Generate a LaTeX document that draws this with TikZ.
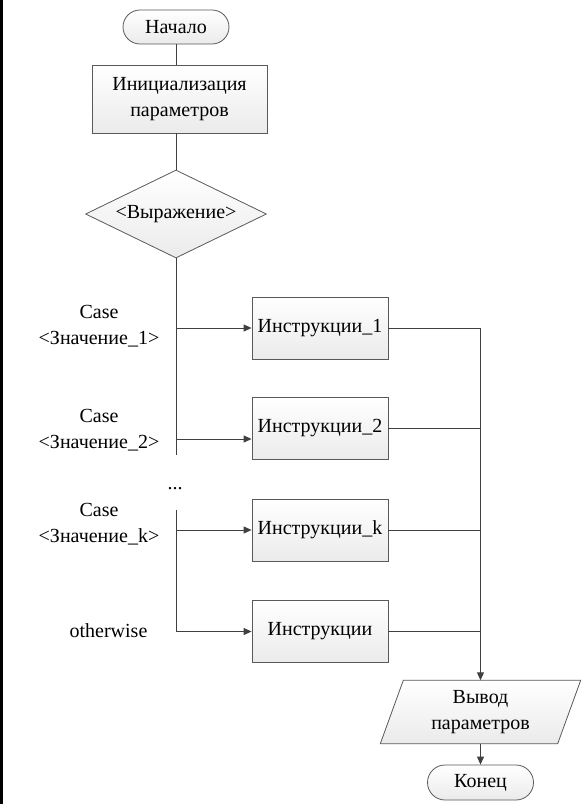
\documentclass[tikz,border=0pt]{standalone}
\usepackage{fontspec}
\setmainfont{Liberation Serif}
\usetikzlibrary{shapes.geometric,shapes.misc,arrows.meta,backgrounds,calc}
\begin{document}
\begin{tikzpicture}[x=1pt,y=-1pt,
  font=\fontsize{20}{26}\selectfont,
  ln/.style={draw=black!75, line width=1pt},
  arr/.style={ln, -{Triangle[length=8pt,width=7pt]}},
  fillsh/.style={top color=white, bottom color=black!8, draw=black!65, line width=0.8pt},
  term/.style={fillsh, rounded rectangle, minimum width=106pt, minimum height=34pt, inner sep=0pt},
  proc/.style={fillsh, rectangle, minimum width=136pt, minimum height=62pt, inner sep=0pt, align=center},
  lbl/.style={align=center, inner sep=0pt}
]
\useasboundingbox (0,0) rectangle (585,804);
\draw[line width=3pt] (1.5,0) -- (1.5,804);
% nodes
\node[term] (start) at (176,27) {Начало};
\node[proc, minimum width=175pt, minimum height=68pt] (init) at (179.5,99) {Инициализация\\параметров};
\node[fillsh, diamond, aspect=2.06, minimum width=181pt, minimum height=88pt, inner sep=0pt] (expr) at (176,214) {<Выражение>};
\node[proc] (b1) at (320,328) {Инструкции\_1};
\node[proc] (b2) at (320,428.5) {Инструкции\_2};
\node[proc] (bk) at (320,530) {Инструкции\_k};
\node[proc] (bo) at (320,631.5) {Инструкции};
\node[lbl, minimum width=177pt, minimum height=63pt] (out) at (480.5,712) {Вывод\\параметров};
\begin{scope}[on background layer]
\path[fillsh] ([xshift=11.5pt]out.north west) -- ([xshift=11.5pt]out.north east)
  -- ([xshift=-11.5pt]out.south east) -- ([xshift=-11.5pt]out.south west) -- cycle;
\end{scope}
\node[term, minimum height=35pt] (end) at (480.5,782.5) {Конец};
% labels
\node[lbl] (l1) at (99,326) {Case\\<Значение\_1>};
\node[lbl] (l2) at (99,430) {Case\\<Значение\_2>};
\node[lbl] (lk) at (99,524) {Case\\<Значение\_k>};
\node[lbl] (lo) at (108.5,631) {otherwise};
\node[lbl, anchor=base] (dots) at (175,489) {...};
% coordinates
\coordinate (t1) at (176,455);
\coordinate (t2) at (176,510);
\coordinate (a1) at (176,328);
\coordinate (a2) at (176,439);
\coordinate (ak) at (176,530);
\coordinate (col) at (480.5,328);
% connectors
\draw[ln] (start.south) -- (start.south |- init.north);
\draw[ln] (init.south -| expr.north) -- (expr.north);
\draw[ln] (expr.south) -- (t1);
\draw[ln] (t2) -- (ak);
\draw[arr] (a1) -- (a1 -| b1.west);
\draw[arr] (a2) -- (a2 -| b2.west);
\draw[arr] (ak) -- (ak -| bk.west);
\draw[arr] (t2) |- (bo.west);
\draw[ln] (b1.east) -- (col);
\draw[ln] (b2.east) -- (b2.east -| col);
\draw[ln] (bk.east) -- (bk.east -| col);
\draw[ln] (bo.east) -- (bo.east -| col);
\draw[arr] (col) -- (col |- out.north);
\draw[arr] (out.south) -- (end.north);
\end{tikzpicture}
\end{document}
